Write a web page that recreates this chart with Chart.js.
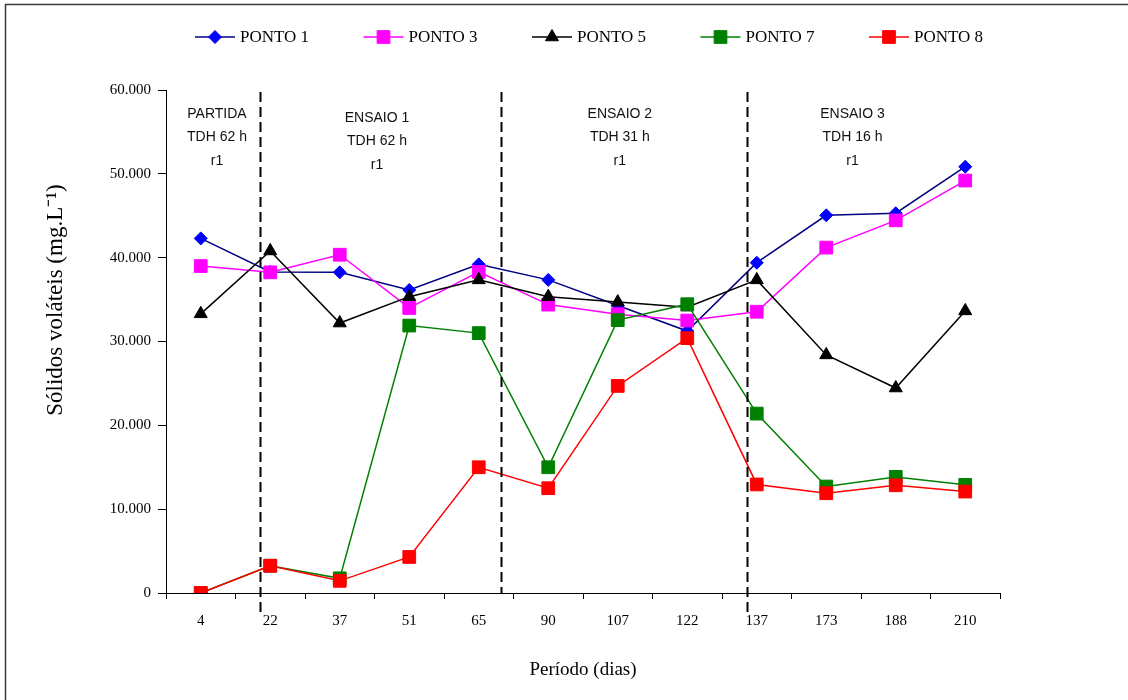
<!DOCTYPE html>
<html>
<head>
<meta charset="utf-8">
<script src="https://cdn.jsdelivr.net/npm/chart.js@4/dist/chart.umd.min.js"></script>
<style>
  html, body { margin: 0; padding: 0; background: #fff; }
  #wrap { width: 1128px; height: 700px; position: relative; }
</style>
</head>
<body>
<div id="wrap"><canvas id="grafico" width="1128" height="700"></canvas></div>
<script>
// Período de amostragem (dias) e sólidos voláteis (mg/L) por ponto de coleta
const dias = ['4', '22', '37', '51', '65', '90', '107', '122', '137', '173', '188', '210'];
const ponto1 = [42300, 38300, 38250, 36150, 39200, 37350, 34300, 31250, 39400, 45050, 45300, 50850];
const ponto3 = [39000, 38250, 40350, 34000, 38300, 34400, 33250, 32500, 33550, 41200, 44450, 49200];
const ponto5 = [33300, 40800, 32200, 35350, 37350, 35350, 34700, 34100, 37350, 28400, 24450, 33650];
const ponto7 = [0, 3250, 1750, 31900, 31000, 15000, 32550, 34450, 21400, 12700, 13850, 12900];
const ponto8 = [0, 3250, 1450, 4300, 15000, 12500, 24700, 30400, 12950, 11900, 12850, 12100];
const rotulosY = ['0', '10.000', '20.000', '30.000', '40.000', '50.000', '60.000'];
const tituloY = 'Sólidos voláteis (mg.L⁻¹)';
const tituloX = 'Período (dias)';
const fases = [
  ['PARTIDA', 'TDH 62 h', 'r1'],
  ['ENSAIO 1', 'TDH 62 h', 'r1'],
  ['ENSAIO 2', 'TDH 31 h', 'r1'],
  ['ENSAIO 3', 'TDH 16 h', 'r1']
];

const SERIF = '"Liberation Serif", "Times New Roman", serif';
const SANS = '"Liberation Sans", Arial, sans-serif';

function serie(label, data, linha, marca, estilo, raio, ordem) {
  return {
    label, data,
    borderColor: linha, borderWidth: 1.5,
    backgroundColor: marca,
    pointStyle: estilo, pointRadius: raio, pointHoverRadius: raio,
    pointBackgroundColor: marca, pointBorderColor: marca, pointBorderWidth: 1,
    tension: 0, fill: false, order: ordem
  };
}

const series = [
  serie('PONTO 1', ponto1, '#000080', '#0000FF', 'rectRot', 6.5, 5),
  serie('PONTO 3', ponto3, '#FF00FF', '#FF00FF', 'rect', 9, 4),
  serie('PONTO 5', ponto5, '#000000', '#000000', 'triangle', 7.5, 3),
  serie('PONTO 7', ponto7, '#008000', '#008000', 'rect', 9, 2),
  serie('PONTO 8', ponto8, '#FF0000', '#FF0000', 'rect', 9, 1)
];

// Desenha um marcador de legenda no mesmo estilo dos pontos
function marcador(ctx, estilo, x, y, r, cor) {
  ctx.save();
  ctx.fillStyle = cor;
  ctx.strokeStyle = cor;
  ctx.lineWidth = 1;
  ctx.beginPath();
  if (estilo === 'rect') {
    const s = Math.SQRT1_2 * r;
    ctx.rect(x - s, y - s, 2 * s, 2 * s);
  } else if (estilo === 'rectRot') {
    ctx.moveTo(x, y - r); ctx.lineTo(x + r, y); ctx.lineTo(x, y + r); ctx.lineTo(x - r, y);
    ctx.closePath();
  } else {
    ctx.moveTo(x, y - r);
    ctx.lineTo(x + r * Math.sin(2 * Math.PI / 3), y - r * Math.cos(2 * Math.PI / 3));
    ctx.lineTo(x + r * Math.sin(4 * Math.PI / 3), y - r * Math.cos(4 * Math.PI / 3));
    ctx.closePath();
  }
  ctx.fill();
  ctx.stroke();
  ctx.restore();
}

// Moldura, título do eixo Y, divisões das fases, textos das fases e legenda
const extras = {
  id: 'extras',
  afterDraw(chart) {
    const { ctx, chartArea, scales } = chart;
    const x = scales.x;

    // moldura (topo e lado esquerdo)
    ctx.save();
    ctx.strokeStyle = '#3a3a3a';
    ctx.lineWidth = 1.5;
    ctx.beginPath();
    ctx.moveTo(5.5, 700); ctx.lineTo(5.5, 4.5); ctx.lineTo(1128, 4.5);
    ctx.stroke();
    ctx.restore();

    // título do eixo Y
    ctx.save();
    ctx.translate(56, 300);
    ctx.rotate(-Math.PI / 2);
    ctx.font = '23px ' + SERIF;
    ctx.fillStyle = '#000';
    ctx.textAlign = 'center';
    ctx.textBaseline = 'middle';
    ctx.fillText(tituloY, 0, 0);
    ctx.restore();

    // linhas tracejadas entre as fases
    const divisoes = [0.853, 4.316, 7.855];
    ctx.save();
    ctx.strokeStyle = '#000';
    ctx.lineWidth = 2;
    ctx.setLineDash([10, 5]);
    divisoes.forEach((d, i) => {
      const px = Math.round(x.getPixelForValue(d)) + 0.5;
      ctx.beginPath();
      ctx.moveTo(px, chartArea.top + 2);
      ctx.lineTo(px, chartArea.bottom + (i === 1 ? 0 : 19));
      ctx.stroke();
    });
    ctx.restore();

    // textos das fases
    const centros = [0.234, 2.536, 6.03, 9.378];
    const topos = [24, 28, 24, 24];
    ctx.save();
    ctx.fillStyle = '#111';
    ctx.font = '14px ' + SANS;
    ctx.textAlign = 'center';
    ctx.textBaseline = 'middle';
    fases.forEach((linhas, i) => {
      const cx = x.getPixelForValue(centros[i]);
      linhas.forEach((t, j) => {
        ctx.fillText(t, cx, chartArea.top + topos[i] + j * 23.5);
      });
    });
    ctx.restore();

    // legenda: linha com marcador e nome da série
    ctx.save();
    ctx.font = '17px ' + SERIF;
    ctx.textBaseline = 'middle';
    ctx.textAlign = 'left';
    series.forEach((s, i) => {
      const x0 = 195 + i * 168.5;
      const y0 = 37;
      ctx.strokeStyle = s.borderColor;
      ctx.lineWidth = 1.5;
      ctx.beginPath();
      ctx.moveTo(x0, y0); ctx.lineTo(x0 + 40, y0);
      ctx.stroke();
      marcador(ctx, s.pointStyle, x0 + 20, y0, s.pointRadius, s.pointBackgroundColor);
      ctx.fillStyle = '#000';
      ctx.fillText(s.label, x0 + 45, y0 + 1);
    });
    ctx.restore();
  }
};

new Chart(document.getElementById('grafico'), {
  type: 'line',
  data: { labels: dias, datasets: series },
  options: {
    responsive: false,
    animation: false,
    layout: { padding: { top: 90, right: 128, left: 0, bottom: 0 } },
    plugins: { legend: { display: false }, tooltip: { enabled: false } },
    scales: {
      x: {
        offset: true,
        grid: { offset: true, drawOnChartArea: false, drawTicks: true, tickLength: 6, color: '#000', lineWidth: 1 },
        border: { display: true, color: '#000', width: 1 },
        ticks: { color: '#000', font: { family: SERIF, size: 15 }, padding: 13, maxRotation: 0, autoSkip: false },
        title: { display: true, text: tituloX, color: '#000', font: { family: SERIF, size: 19 }, padding: { top: 0, bottom: 19 } },
        afterFit(s) { s.height = 107; }
      },
      y: {
        min: 0, max: 60000,
        grid: { drawOnChartArea: false, drawTicks: true, tickLength: 8, color: '#000', lineWidth: 1 },
        border: { display: true, color: '#000', width: 1 },
        ticks: {
          stepSize: 10000, color: '#000', font: { family: SERIF, size: 15 }, padding: 7,
          callback: (v) => rotulosY[Math.round(v / 10000)]
        },
        afterFit(s) { s.width = 166; }
      }
    }
  },
  plugins: [extras]
});
</script>
</body>
</html>
